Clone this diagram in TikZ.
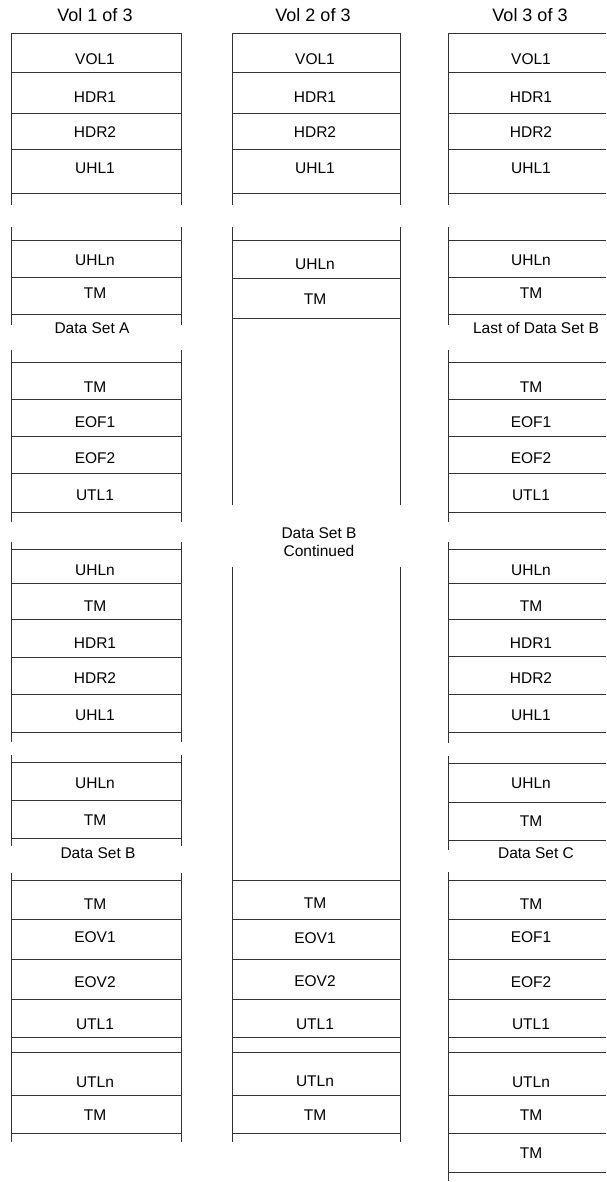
\documentclass[tikz,border=0pt]{standalone}
\usepackage{fontspec}
\setmainfont{Liberation Sans}
\begin{document}
\begin{tikzpicture}[x=1pt,y=-1pt,
  rule/.style={draw=black!80,line width=0.9pt},
  lbl/.style={inner sep=0pt,font=\fontsize{15.5}{18}\selectfont,text=black},
  ttl/.style={inner sep=0pt,font=\fontsize{18}{21}\selectfont,text=black}]
\useasboundingbox (0,0) rectangle (606,1182);
% titles
\node[ttl] (t1) at (95,15) {Vol 1 of 3};
\node[ttl] (t2) at (313,15) {Vol 2 of 3};
\node[ttl] (t3) at (530,15) {Vol 3 of 3};
% ---------- column 1 ----------
\foreach \a/\b in {33/205,227/325,350/522,542/742,755/846,873/1142}{
  \draw[rule] (11,\a) -- (11,\b);
  \draw[rule] (181,\a) -- (181,\b);
}
\foreach \y in {33,72,113,149,193,240,277,314,362,399,436,473,512,549,583,619,657,694,732,762,800,838,880,919,959,999,1037,1052,1095,1133}{
  \draw[rule] (11,\y) -- (181,\y);
}
\foreach \y/\t/\n in {59/VOL1/a,97/HDR1/b,132/HDR2/c,168/UHL1/d,260/UHLn/e,293/TM/f,387/TM/g,422/EOF1/h,458/EOF2/i,495/UTL1/j,570/UHLn/k,606/TM/l,643/HDR1/m,678/HDR2/n,715/UHL1/o,783/UHLn/p,820/TM/q,904/TM/r,937/EOV1/s,982/EOV2/t,1024/UTL1/u,1082/UTLn/v,1115/TM/w}{
  \node[lbl] (c1\n) at (95,\y) {\t};
}
\node[lbl] (dsa) at (92,328) {Data Set A};
\node[lbl] (dsb) at (98,853) {Data Set B};
% ---------- column 2 ----------
\foreach \a/\b in {33/205,227/505,567/1142}{
  \draw[rule] (232,\a) -- (232,\b);
  \draw[rule] (400,\a) -- (400,\b);
}
\foreach \y in {33,72,113,149,193,240,278,318,880,919,959,999,1037,1052,1095,1133}{
  \draw[rule] (232,\y) -- (400,\y);
}
\foreach \y/\t/\n in {59/VOL1/a,97/HDR1/b,132/HDR2/c,168/UHL1/d,264/UHLn/e,299/TM/f,903/TM/r,938/EOV1/s,981/EOV2/t,1024/UTL1/u,1081/UTLn/v,1115/TM/w}{
  \node[lbl] (c2\n) at (315,\y) {\t};
}
\node[lbl,align=center,font=\fontsize{15.5}{18}\selectfont] (dsbc) at (319,542) {Data Set B\\Continued};
% ---------- column 3 ----------
\foreach \a/\b in {33/205,227/325,350/522,542/743,756/850,872/1181}{
  \draw[rule] (448,\a) -- (448,\b);
}
\foreach \y in {33,72,113,149,193,240,277,314,362,399,436,473,512,549,583,619,656,694,732,763,802,840,880,919,959,999,1037,1052,1095,1133,1172}{
  \draw[rule] (448,\y) -- (606,\y);
}
\foreach \y/\t/\n in {59/VOL1/a,97/HDR1/b,132/HDR2/c,168/UHL1/d,260/UHLn/e,293/TM/f,387/TM/g,422/EOF1/h,458/EOF2/i,495/UTL1/j,570/UHLn/k,606/TM/l,643/HDR1/m,678/HDR2/n,715/UHL1/o,783/UHLn/p,821/TM/q,904/TM/r,937/EOF1/s,982/EOF2/t,1024/UTL1/u,1082/UTLn/v,1115/TM/w,1153/TM/x}{
  \node[lbl] (c3\n) at (531,\y) {\t};
}
\node[lbl] (ldsb) at (536,328) {Last of Data Set B};
\node[lbl] (dsc) at (536,853) {Data Set C};
\end{tikzpicture}
\end{document}
